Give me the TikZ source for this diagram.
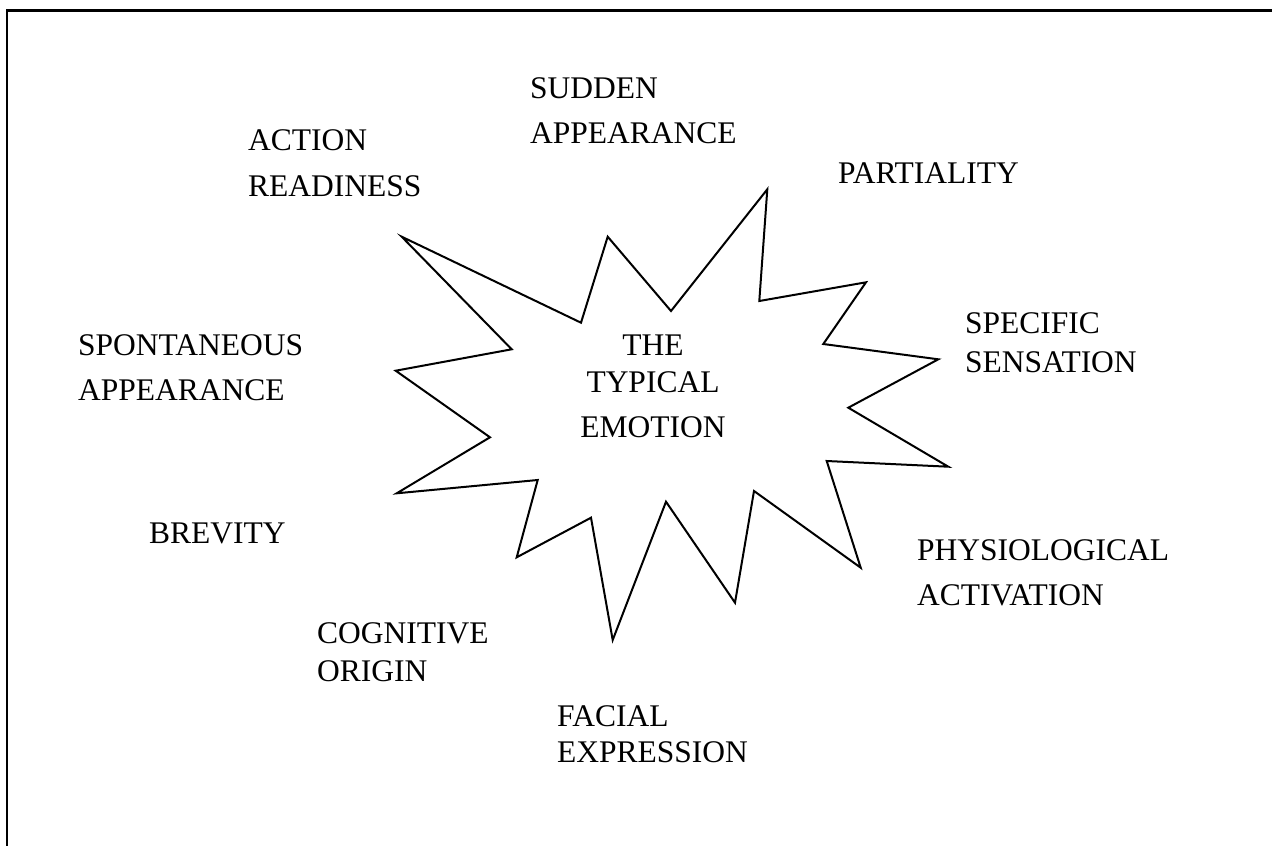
\documentclass[tikz,border=0pt]{standalone}
\usepackage{fontspec}
\setmainfont{Liberation Serif}
\begin{document}
\begin{tikzpicture}[x=1pt,y=-1pt,
  lbl/.style={anchor=base west,inner sep=0pt,align=left,font=\fontsize{31.5}{45}\selectfont},
  ctr/.style={anchor=base,inner sep=0pt,align=center,font=\fontsize{31.5}{45}\selectfont},
  frameline/.style={line width=2.5pt,line cap=rect},
  starline/.style={line width=2pt,line join=miter}]
\useasboundingbox (0,0) rectangle (1272,846);
% frame (top and left edges)
\coordinate (fl) at (7,846);
\coordinate (tl) at (7,10.5);
\coordinate (tr) at (1272,10.5);
\draw[frameline] (fl) -- (tl) -- (tr);
% star
\draw[starline] (401.7,236.7) -- (581,322.7) -- (607.7,236.7) -- (671,311) -- (767.3,189.3)
  -- (759.3,301) -- (866,282.3) -- (823.3,344) -- (938.3,359.3) -- (848.3,407.7)
  -- (948.3,466.7) -- (826.7,461) -- (860.7,567.7) -- (754,491) -- (735,602.7)
  -- (666,501.7) -- (612.7,640) -- (591,517.7) -- (516.7,557.3) -- (537.7,480)
  -- (396.7,493.3) -- (490,437.3) -- (395.7,370.7) -- (511.7,349.3) -- cycle;
% labels (anchor = baseline of the last line)
\node[ctr] (center) at (653,437) {THE\\[-8pt]TYPICAL\\EMOTION};
\node[lbl] (sudden) at (530,143) {SUDDEN\\APPEARANCE};
\node[lbl] (action) at (248,196) {ACTION\\[1pt]READINESS};
\node[lbl] (partial) at (838,183) {PARTIALITY};
\node[lbl] (specific) at (965,372) {SPECIFIC\\[-6pt]SENSATION};
\node[lbl] (spont) at (78,400) {SPONTANEOUS\\APPEARANCE};
\node[lbl] (brevity) at (149,543) {BREVITY};
\node[lbl] (physio) at (917,605) {PHYSIOLOGICAL\\ACTIVATION};
\node[lbl] (cogn) at (317,681) {COGNITIVE\\[-7pt]ORIGIN};
\node[lbl] (facial) at (557,762) {FACIAL\\[-9pt]EXPRESSION};
\end{tikzpicture}
\end{document}
